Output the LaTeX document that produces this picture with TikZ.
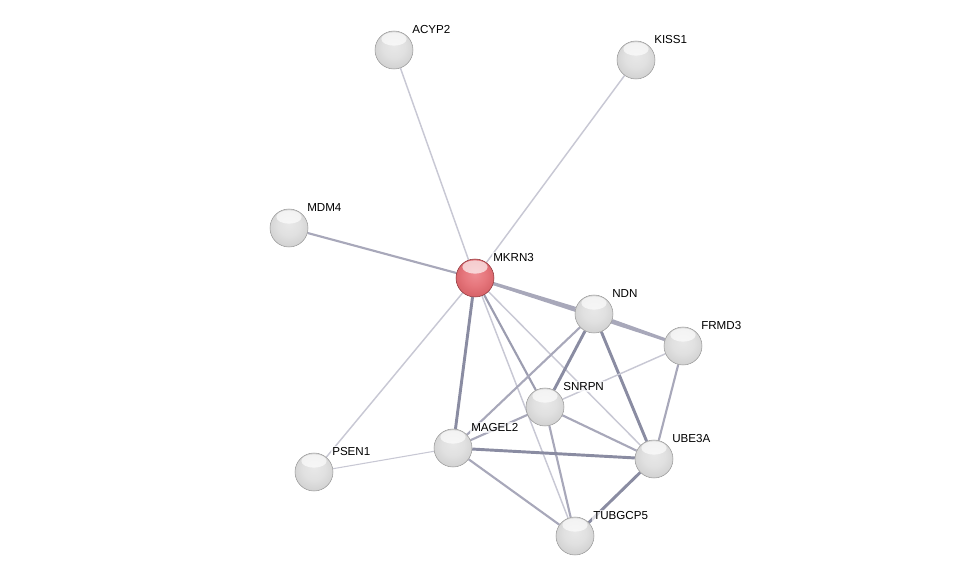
\documentclass[tikz,border=0pt]{standalone}
\usepackage{fontspec}
\setmainfont{Liberation Sans}
\usetikzlibrary{backgrounds}
\definecolor{elight}{HTML}{C8C8D4}
\definecolor{emed}{HTML}{A8A8BA}
\definecolor{edark}{HTML}{8A8CA2}
\pgfdeclareradialshading{sphgray}{\pgfpoint{0bp}{6bp}}{color(0bp)=(gray!18); color(15bp)=(gray!24); color(30bp)=(gray!38); color(40bp)=(gray!56); color(48bp)=(gray!78); color(56bp)=(gray!85)}
\pgfdeclareradialshading{sphred}{\pgfpoint{0bp}{6bp}}{color(0bp)=(rgb,255:red,238;green,140;blue,146); color(15bp)=(rgb,255:red,230;green,118;blue,124); color(30bp)=(rgb,255:red,212;green,94;blue,100); color(40bp)=(rgb,255:red,190;green,76;blue,82); color(48bp)=(rgb,255:red,160;green,58;blue,64); color(56bp)=(rgb,255:red,145;green,52;blue,58)}
\tikzset{
  prot/.style={circle, minimum size=28.5pt, inner sep=0pt, shading=sphgray, draw=gray!80, line width=0.4pt,
    path picture={\fill[white, fill opacity=0.65] ([yshift=-6pt]path picture bounding box.north) ellipse (9.5pt and 5pt);}},
  protred/.style={prot, shading=sphred, draw={rgb,255:red,140;green,55;blue,60}},
  lbl/.style={anchor=south west, inner sep=1pt, font=\fontsize{8.7}{10}\selectfont, fill=white, fill opacity=0.7, text opacity=1},
  wk/.style={draw=elight, line width=1.1pt},
  md/.style={draw=emed, line width=1.6pt},
  st/.style={draw=edark, line width=2.2pt},
}
\begin{document}
\begin{tikzpicture}[x=0.75pt,y=-0.75pt]
\useasboundingbox (0,0) rectangle (976,581);
\node[prot] (acyp2) at (394,50) {};
\node[prot] (kiss1) at (636,60) {};
\node[prot] (mdm4) at (289,228) {};
\node[protred] (mkrn3) at (475,278) {};
\node[prot] (ndn) at (594,314) {};
\node[prot] (frmd3) at (683,346) {};
\node[prot] (snrpn) at (545,407) {};
\node[prot] (magel2) at (453,448) {};
\node[prot] (ube3a) at (654,459) {};
\node[prot] (psen1) at (314,472) {};
\node[prot] (tubgcp5) at (575,536) {};
\foreach \n/\t in {acyp2/ACYP2,kiss1/KISS1,mdm4/MDM4,mkrn3/MKRN3,ndn/NDN,frmd3/FRMD3,snrpn/SNRPN,magel2/MAGEL2,ube3a/UBE3A,psen1/PSEN1,tubgcp5/TUBGCP5}
  \node[lbl] (l\n) at ([xshift=12.5pt,yshift=11pt]\n.center) {\t};
\begin{scope}[on background layer]
\draw[wk] (acyp2) -- (mkrn3);
\draw[wk] (kiss1) -- (mkrn3);
\draw[md] (mdm4) -- (mkrn3);
\draw[wk] (mkrn3) -- (psen1);
\draw[st] (mkrn3) -- (magel2);
\draw[md, line width=2.4pt] (mkrn3) -- (ndn);
\draw[md] (mkrn3) -- (frmd3);
\draw[md, line width=2.2pt] (ndn) -- (frmd3);
\draw[md, draw=edark!85] (mkrn3) -- (snrpn);
\draw[wk] (mkrn3) -- (ube3a);
\draw[wk] (mkrn3) -- (tubgcp5);
\draw[st] (ndn) -- (snrpn);
\draw[md] (ndn) -- (magel2);
\draw[st] (ndn) -- (ube3a);
\draw[wk] (frmd3) -- (snrpn);
\draw[md] (frmd3) -- (ube3a);
\draw[md] (snrpn) -- (magel2);
\draw[md] (snrpn) -- (ube3a);
\draw[md] (snrpn) -- (tubgcp5);
\draw[st] (magel2) -- (ube3a);
\draw[md] (magel2) -- (tubgcp5);
\draw[wk, line width=0.8pt] (magel2) -- (psen1);
\draw[st] (ube3a) -- (tubgcp5);
\end{scope}
\end{tikzpicture}
\end{document}
